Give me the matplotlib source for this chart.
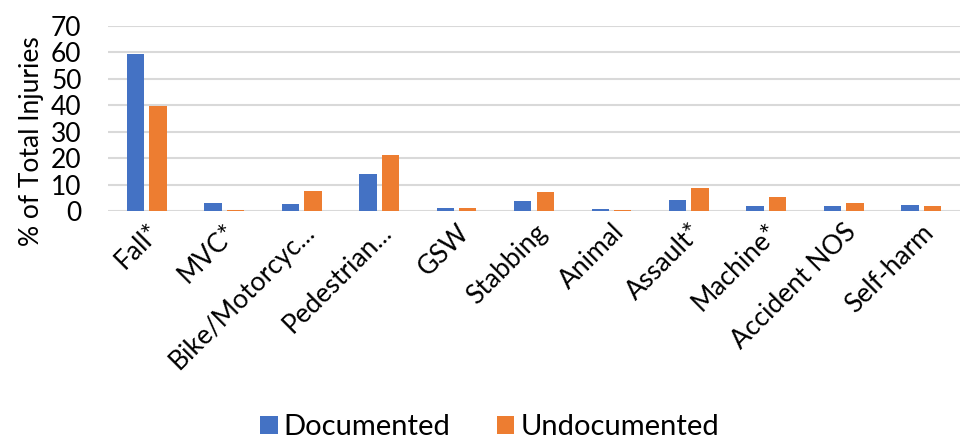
import matplotlib.pyplot as plt
import numpy as np

categories = ['Fall*', 'MVC*', 'Bike/Motorcyc...', 'Pedestrian...', 'GSW', 'Stabbing',
              'Animal', 'Assault*', 'Machine*', 'Accident NOS', 'Self-harm']
documented = [59.2, 3.3, 2.8, 14.1, 1.3, 3.9, 0.9, 4.3, 2.0, 1.9, 2.5]
undocumented = [39.7, 0.4, 7.7, 21.3, 1.4, 7.1, 0.4, 8.7, 5.3, 3.3, 1.9]

plt.rcParams['font.family'] = ['Lato', 'DejaVu Sans']

fig = plt.figure(figsize=(9.6, 4.42), dpi=100)
ax = fig.add_axes([0.1125, 0.522, 0.8875, 0.42])

x = np.arange(len(categories))
ax.bar(x - 0.145, documented, 0.225, color='#4472C4', label='Documented', zorder=3)
ax.bar(x + 0.145, undocumented, 0.225, color='#ED7D31', label='Undocumented', zorder=3)

ax.set_xlim(-0.5, len(categories) - 0.5)
ax.set_ylim(0, 70)
ax.set_yticks(range(0, 71, 10))
ax.yaxis.grid(True, color='#d9d9d9', linewidth=1.5, zorder=0)
for s in ax.spines.values():
    s.set_visible(False)
ax.tick_params(axis='both', length=0, labelsize=19)
ax.tick_params(axis='y', pad=19)
ax.set_xticks(x)
ax.set_xticklabels(categories, rotation=45, ha='right', rotation_mode='anchor')
ax.tick_params(axis='x', pad=6)
ax.set_ylabel('% of Total Injuries', fontsize=19)
ax.yaxis.set_label_coords(-0.075, 0.38)

fig.legend(loc='lower center', ncol=2, frameon=False, fontsize=21,
           handlelength=0.6, handleheight=0.6, handletextpad=0.2, columnspacing=1.6,
           bbox_to_anchor=(0.51, -0.055))

plt.savefig('out.png', dpi=100)
